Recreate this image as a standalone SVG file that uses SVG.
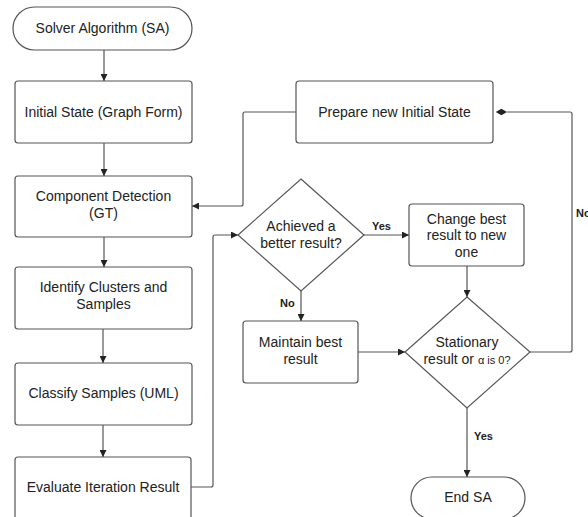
<svg xmlns="http://www.w3.org/2000/svg" width="588" height="517" viewBox="0 0 588 517">
<style>
.n{fill:#fff;stroke:#555;stroke-width:1.2}
.t{font-family:"Liberation Sans",Arial,sans-serif;font-size:14px;fill:#222;text-anchor:middle}
.s{font-size:11px}
.l{font-family:"Liberation Sans",Arial,sans-serif;font-size:11px;font-weight:bold;fill:#222}
.c{fill:none;stroke:#555;stroke-width:1.2;marker-end:url(#a)}
</style>
<defs>
<marker id="a" viewBox="0 0 10 10" refX="10" refY="5" markerWidth="7" markerHeight="7" orient="auto" markerUnits="userSpaceOnUse"><path d="M0,0L10,5L0,10z" fill="#222"/></marker>
<marker id="d" viewBox="0 0 14 10" refX="0" refY="5" markerWidth="12" markerHeight="8" orient="auto" markerUnits="userSpaceOnUse"><path d="M0,5L7,1L14,5L7,9z" fill="#222"/></marker>
</defs>
<rect width="588" height="517" fill="#fff"/>
<g id="start"><rect class="n" x="13" y="7" width="179" height="43" rx="21.5"/><text class="t" x="102.5" y="33">Solver Algorithm (SA)</text></g>
<g id="init"><rect class="n" x="15" y="81" width="177" height="62" rx="3"/><text class="t" x="103.5" y="117">Initial State (Graph Form)</text></g>
<g id="comp"><rect class="n" x="15" y="176" width="177" height="61" rx="3"/><text class="t" x="103.5" y="201">Component Detection</text><text class="t" x="103.5" y="218">(GT)</text></g>
<g id="ident"><rect class="n" x="15" y="267" width="177" height="62" rx="3"/><text class="t" x="103.5" y="292">Identify Clusters and</text><text class="t" x="103.5" y="309">Samples</text></g>
<g id="classify"><rect class="n" x="15" y="363" width="177" height="62" rx="3"/><text class="t" x="103.5" y="398">Classify Samples (UML)</text></g>
<g id="eval"><rect class="n" x="15" y="457" width="176" height="75" rx="3"/><text class="t" x="103" y="492">Evaluate Iteration Result</text></g>
<g id="prepare"><rect class="n" x="296" y="81" width="197" height="62" rx="3"/><text class="t" x="394.5" y="117">Prepare new Initial State</text></g>
<g id="achieved"><path class="n" d="M301,179L364,235L301,291L238,235z"/><text class="t" x="301" y="231">Achieved a</text><text class="t" x="301" y="248">better result?</text></g>
<g id="change"><rect class="n" x="409" y="204" width="115" height="62" rx="3"/><text class="t" x="466.5" y="224">Change best</text><text class="t" x="466.5" y="240">result to new</text><text class="t" x="466.5" y="257">one</text></g>
<g id="maintain"><rect class="n" x="243" y="321" width="115" height="62" rx="3"/><text class="t" x="300.5" y="347">Maintain best</text><text class="t" x="300.5" y="364">result</text></g>
<g id="stationary"><path class="n" d="M467,297L530,352L467,408L405,352z"/><text class="t" x="467" y="347">Stationary</text><text class="t" x="467" y="364">result or <tspan class="s">α is 0?</tspan></text></g>
<g id="end"><rect class="n" x="411" y="477" width="114" height="42" rx="21"/><text class="t" x="468" y="502">End SA</text></g>
<g id="connectors">
<path class="c" d="M104,50V81"/>
<path class="c" d="M104,143V176"/>
<path class="c" d="M104,237V267"/>
<path class="c" d="M103,329V363"/>
<path class="c" d="M103,425V457"/>
<path class="c" d="M191,487H211a2,2 0 0 0 2,-2V237a2,2 0 0 1 2,-2H238"/>
<path class="c" d="M296,112H245a2,2 0 0 0 -2,2V204a2,2 0 0 1 -2,2H192"/>
<path class="c" d="M364,235H409"/>
<path class="c" d="M301,291V321"/>
<path class="c" d="M358,352H405"/>
<path class="c" d="M467,266V297"/>
<path class="c" d="M467,408V477"/>
<path fill="none" stroke="#555" stroke-width="1.2" marker-end="url(#d)" d="M530,352H570a2,2 0 0 0 2,-2V114a2,2 0 0 0 -2,-2H507"/>
<text class="l" x="372" y="230">Yes</text>
<text class="l" x="280" y="307">No</text>
<text class="l" x="474" y="440">Yes</text>
<text class="l" x="576" y="217">No</text>
</g>
</svg>
